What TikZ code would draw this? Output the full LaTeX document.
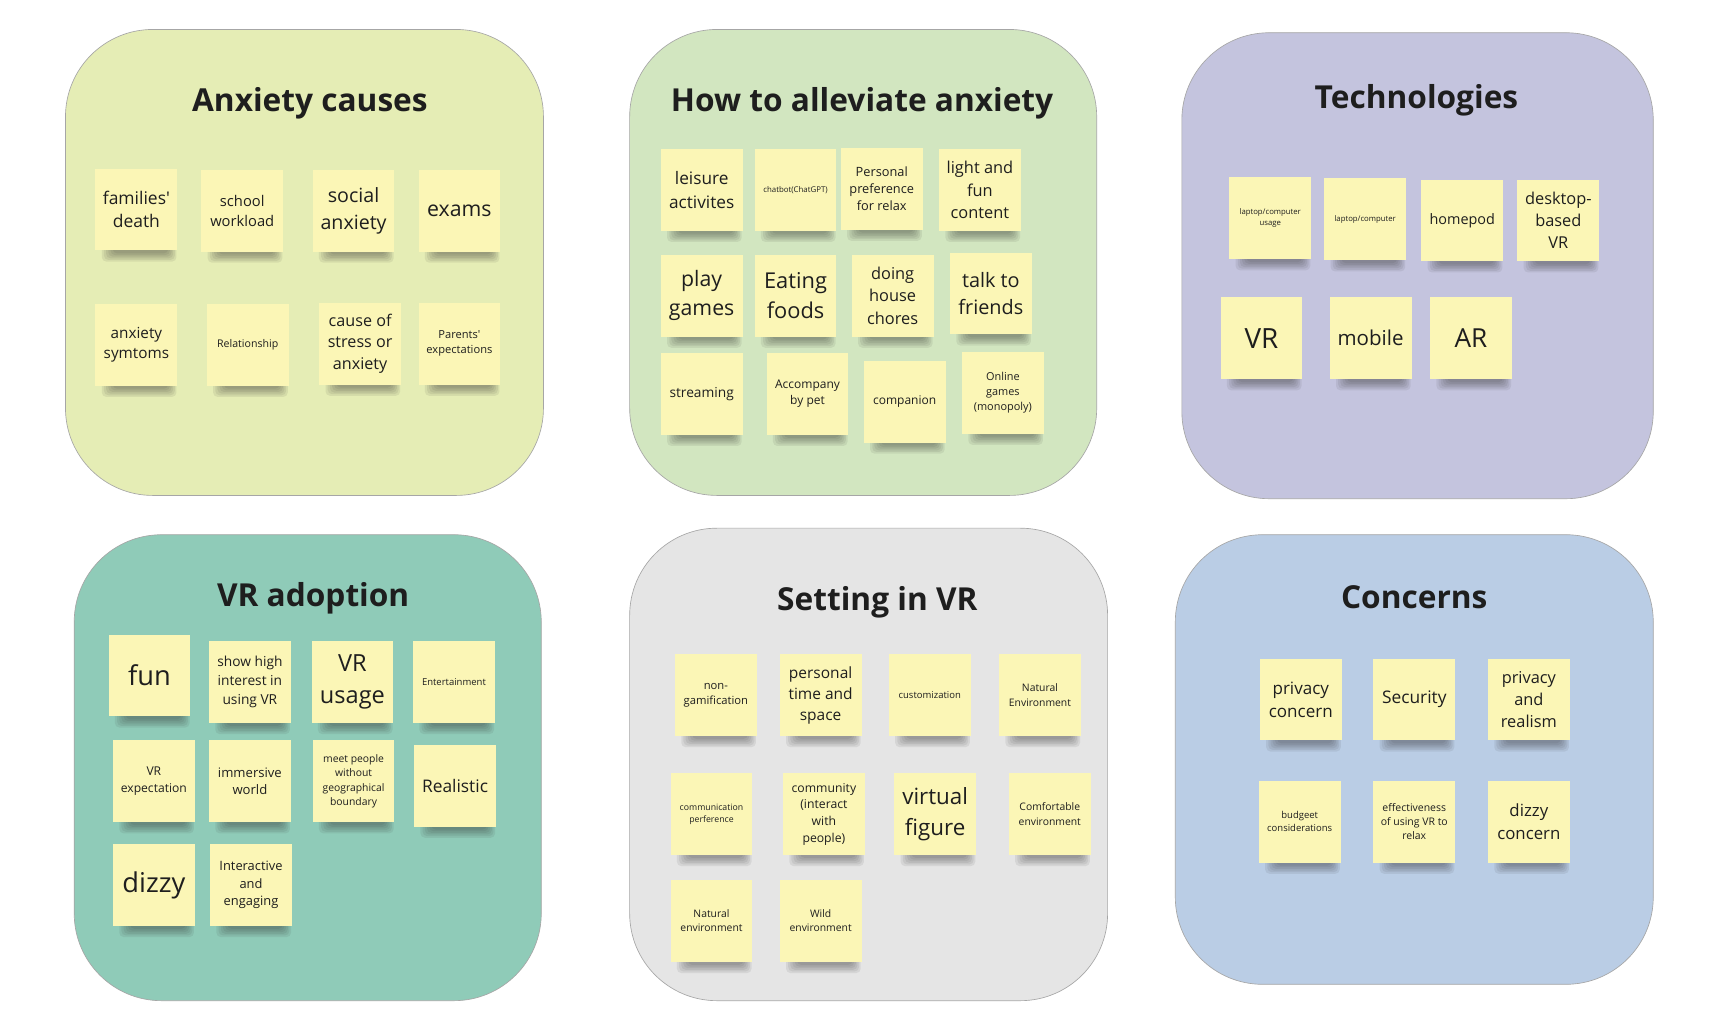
\documentclass[tikz,border=0pt]{standalone}
\usepackage{fontspec}
\setmainfont{Open Sans}
\usepackage{xcolor}
\usepackage{tikz}
\usetikzlibrary{calc}

\definecolor{ink}{HTML}{1E1E1E}
\definecolor{notebg}{HTML}{FBF6B6}
\definecolor{causesbg}{HTML}{E5EDB5}
\definecolor{relievebg}{HTML}{D2E6C0}
\definecolor{techbg}{HTML}{C4C4DE}
\definecolor{adoptbg}{HTML}{8FCBB8}
\definecolor{settingbg}{HTML}{E5E5E5}
\definecolor{concernbg}{HTML}{BACDE5}

\pgfdeclarelayer{back}
\pgfdeclarelayer{mid}
\pgfsetlayers{back,mid,main}

\begin{document}
\begin{tikzpicture}[x=1pt, y=-1pt,
        panel/.style={draw=black!35, line width=0.6pt, rounded corners=80pt},
        heading/.style={font=\fontsize{29}{36}\selectfont\bfseries, text=ink, text depth=0pt},
        sticky/.style={fill=notebg, minimum width=75pt, minimum height=75pt, inner sep=0pt, align=center, text=ink},
        fs/.style={font=\fontsize{#1}{1.36\dimexpr#1pt\relax}\selectfont},
        drop/.style={fill=black!80, fill opacity=0.085, rounded corners=4pt}]

        \useasboundingbox (0.0, 0.0) rectangle (1567.0, 933.0);

        \begin{pgfonlayer}{back}
            \fill [white] (0.0, 0.0) rectangle (1567.0, 933.0); % canvas
            \draw [panel, fill=causesbg] (60.0, 27.0) rectangle (498.0, 454.0);
            \draw [panel, fill=relievebg] (577.0, 27.0) rectangle (1005.0, 454.0);
            \draw [panel, fill=techbg] (1083.0, 30.0) rectangle (1515.0, 457.0);
            \draw [panel, fill=adoptbg] (68.0, 490.0) rectangle (496.0, 917.0);
            \draw [panel, fill=settingbg] (577.0, 484.0) rectangle (1015.0, 917.0);
            \draw [panel, fill=concernbg] (1077.0, 490.0) rectangle (1515.0, 902.0);
        \end{pgfonlayer}

        \node [heading] (causes) at (284.0, 91.0) {Anxiety causes};
        \node [heading] (relieve) at (790.0, 91.0) {How to alleviate anxiety};
        \node [heading] (tech) at (1298.0, 88.0) {Technologies};
        \node [heading] (adopt) at (287.0, 545.0) {VR adoption};
        \node [heading] (setting) at (804.0, 548.0) {Setting in VR};
        \node [heading] (concern) at (1296.0, 547.0) {Concerns};

        % anxiety causes
        \node [sticky, fs=16] (ac1) at (125.0, 192.0) {families\textquotesingle\\death};
        \node [sticky, fs=13.5] (ac2) at (222.0, 193.0) {school\\workload};
        \node [sticky, fs=18] (ac3) at (324.0, 193.0) {social\\anxiety};
        \node [sticky, fs=19.5] (ac4) at (421.0, 193.0) {exams};
        \node [sticky, fs=14] (ac5) at (125.0, 316.0) {anxiety\\symtoms};
        \node [sticky, fs=9.7] (ac6) at (227.0, 316.0) {Relationship};
        \node [sticky, fs=14.8] (ac7) at (330.0, 315.0) {cause of\\stress or\\anxiety};
        \node [sticky, fs=10.2] (ac8) at (421.0, 315.0) {Parents\textquotesingle\\expectations};

        % how to alleviate anxiety
        \node [sticky, fs=15.8] (al1) at (643.0, 174.0) {leisure\\activites};
        \node [sticky, fs=7.2] (al2) at (729.0, 174.0) {chatbot(ChatGPT)};
        \node [sticky, fs=11.7] (al3) at (808.0, 173.0) {Personal\\preference\\for relax};
        \node [sticky, fs=15] (al4) at (898.0, 174.0) {light and\\fun\\content};
        \node [sticky, fs=19.5] (al5) at (643.0, 271.0) {play\\games};
        \node [sticky, fs=20] (al6) at (729.0, 271.0) {Eating\\foods};
        \node [sticky, fs=15] (al7) at (818.0, 271.0) {doing\\house\\chores};
        \node [sticky, fs=18.2] (al8) at (908.0, 269.0) {talk to\\friends};
        \node [sticky, fs=12.6] (al9) at (643.0, 361.0) {streaming};
        \node [sticky, fs=11] (al10) at (740.0, 361.0) {Accompany\\by pet};
        \node [sticky, fs=11] (al11) at (829.0, 368.0) {companion};
        \node [sticky, fs=10] (al12) at (919.0, 360.0) {Online\\games\\(monopoly)};

        % technologies
        \node [sticky, fs=7.1] (te1) at (1164.0, 200.0) {laptop/computer\\usage};
        \node [sticky, fs=7.1] (te2) at (1251.0, 201.0) {laptop/computer};
        \node [sticky, fs=13.2] (te3) at (1340.0, 202.0) {homepod};
        \node [sticky, fs=15] (te4) at (1428.0, 202.0) {desktop-\\based\\VR};
        \node [sticky, fs=25.5] (te5) at (1156.0, 310.0) {VR};
        \node [sticky, fs=18.8] (te6) at (1256.0, 310.0) {mobile};
        \node [sticky, fs=24] (te7) at (1348.0, 310.0) {AR};

        % vr adoption
        \node [sticky, fs=25] (va1) at (137.0, 619.0) {fun};
        \node [sticky, fs=12.6] (va2) at (229.0, 625.0) {show high\\interest in\\using VR};
        \node [sticky, fs=21.6] (va3) at (323.0, 625.0) {VR\\usage};
        \node [sticky, fs=8.7] (va4) at (416.0, 625.0) {Entertainment};
        \node [sticky, fs=11.1] (va5) at (141.0, 716.0) {VR\\expectation};
        \node [sticky, fs=12] (va6) at (229.0, 716.0) {immersive\\world};
        \node [sticky, fs=9.5] (va7) at (324.0, 716.0) {meet people\\without\\geographical\\boundary};
        \node [sticky, fs=15.9] (va8) at (417.0, 720.0) {Realistic};
        \node [sticky, fs=25] (va9) at (141.0, 811.0) {dizzy};
        \node [sticky, fs=11.8] (va10) at (230.0, 811.0) {Interactive\\and\\engaging};

        % setting in vr
        \node [sticky, fs=10.3] (sv1) at (656.0, 637.0) {non-\\gamification};
        \node [sticky, fs=14.2] (sv2) at (752.0, 637.0) {personal\\time and\\space};
        \node [sticky, fs=8.7] (sv3) at (852.0, 637.0) {customization};
        \node [sticky, fs=9.5] (sv4) at (953.0, 637.0) {Natural\\Environment};
        \node [sticky, fs=8] (sv5) at (652.0, 746.0) {communication\\perference};
        \node [sticky, fs=11.2] (sv6) at (755.0, 746.0) {community\\(interact\\with\\people)};
        \node [sticky, fs=20.5] (sv7) at (857.0, 746.0) {virtual\\figure};
        \node [sticky, fs=9.5] (sv8) at (962.0, 746.0) {Comfortable\\environment};
        \node [sticky, fs=9.5] (sv9) at (652.0, 844.0) {Natural\\environment};
        \node [sticky, fs=9.5] (sv10) at (752.0, 844.0) {Wild\\environment};

        % concerns
        \node [sticky, fs=15.6] (co1) at (1192.0, 641.0) {privacy\\concern};
        \node [sticky, fs=15.9] (co2) at (1296.0, 641.0) {Security};
        \node [sticky, fs=15] (co3) at (1401.0, 641.0) {privacy\\and\\realism};
        \node [sticky, fs=8.7] (co4) at (1191.0, 753.0) {budgeet\\considerations};
        \node [sticky, fs=9.6] (co5) at (1296.0, 753.0) {effectiveness\\of using VR to\\relax};
        \node [sticky, fs=15.4] (co6) at (1401.0, 753.0) {dizzy\\concern};

        % shadows under the notes, stacked thin layers
        \begin{pgfonlayer}{mid}
            \foreach \n in {ac1,ac2,ac3,ac4,ac5,ac6,ac7,ac8,al1,al2,al3,al4,al5,al6,al7,al8,al9,al10,al11,al12,te1,te2,te3,te4,te5,te6,te7,va1,va2,va3,va4,va5,va6,va7,va8,va9,va10,sv1,sv2,sv3,sv4,sv5,sv6,sv7,sv8,sv9,sv10,co1,co2,co3,co4,co5,co6}
                \foreach \k in {0,...,5}
                    \fill [drop] ($(\n.south west)+(6.0+2.0*\k, -6.0)$) rectangle ($(\n.south east)+(-1.0-1.5*\k, 10.0-1.5*\k)$);
        \end{pgfonlayer}
    \end{tikzpicture}
\end{document}
